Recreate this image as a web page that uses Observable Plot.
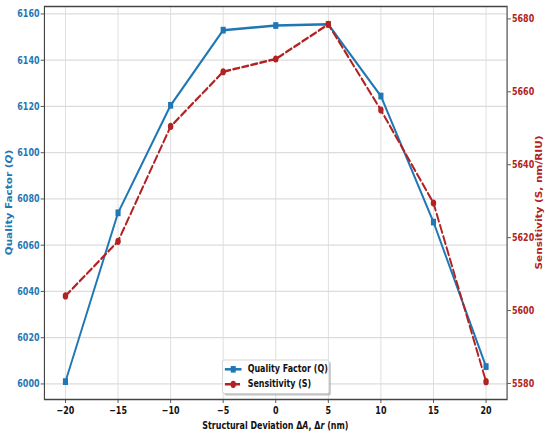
<!DOCTYPE html>
<html><head><meta charset="utf-8">
<script src="https://cdn.jsdelivr.net/npm/d3@7"></script>
<script src="https://cdn.jsdelivr.net/npm/@observablehq/plot@0.6"></script>
<style>html,body{margin:0;padding:0;background:#fff;} #chart{width:550px;height:440px;overflow:hidden;}</style>
</head><body><div id="chart"></div>
<script>
// ---- data ----
const deviation = [-20, -15, -10, -5, 0, 5, 10, 15, 20];
const qualityQ = [6001, 6074, 6120.5, 6153, 6155, 6155.5, 6124.5, 6070, 6007.5];
const sensitivityS = [5604, 5619, 5650.5, 5665.5, 5669, 5678.5, 5655, 5629.5, 5580.5];
const xTicks = [-20, -15, -10, -5, 0, 5, 10, 15, 20];
const qTicks = [6000, 6020, 6040, 6060, 6080, 6100, 6120, 6140, 6160];
const sTicks = [5580, 5600, 5620, 5640, 5660, 5680];
const legendLabels = ["Quality Factor (Q)", "Sensitivity (S)"];

const BLUE = "#1f77b4", RED = "#b22222";
const W = 724, H = 440, OUTW = 550;

const qExt = d3.extent(qualityQ), sExt = d3.extent(sensitivityS);
const qPad = (qExt[1] - qExt[0]) * 0.05, sPad = (sExt[1] - sExt[0]) * 0.05;
const qDom = [qExt[0] - qPad, qExt[1] + qPad];
const sDom = [sExt[0] - sPad, sExt[1] + sPad];
const s2q = s => qDom[0] + (s - sDom[0]) * (qDom[1] - qDom[0]) / (sDom[1] - sDom[0]);
const q2s = q => sDom[0] + (q - qDom[0]) * (sDom[1] - sDom[0]) / (qDom[1] - qDom[0]);

const rows = deviation.map((x, i) => ({x, q: qualityQ[i], s: sensitivityS[i], sq: s2q(sensitivityS[i])}));

const ML = 58, MR = 57, MT = 6, MB = 41;
const plot = Plot.plot({
  width: W, height: H, marginLeft: ML, marginRight: MR, marginTop: MT, marginBottom: MB,
  style: {fontFamily: "DejaVu Sans", fontSize: "10.5px", fontWeight: "bold", background: "white", overflow: "visible"},
  x: {domain: [-22, 22]},
  y: {domain: qDom},
  marks: [
    Plot.gridX(xTicks, {stroke: "#dcdcdc", strokeOpacity: 1, strokeWidth: 1.2}),
    Plot.gridY(qTicks, {stroke: "#dcdcdc", strokeOpacity: 1, strokeWidth: 1.2}),
    Plot.axisX(xTicks, {tickSize: 4, tickPadding: 3, label: null, stroke: "#444", fill: "#111",
      tickFormat: d => d < 0 ? "\u2212" + (-d) : String(d)}),
    Plot.axisY(qTicks, {anchor: "left", tickSize: 4.5, tickPadding: 2, label: null, stroke: "#444", fill: BLUE,
      tickFormat: d => String(d)}),
    Plot.axisY(sTicks.map(s2q), {anchor: "right", tickSize: 4.5, tickPadding: 2, label: null, stroke: "#444", fill: RED,
      tickFormat: v => String(Math.round(q2s(v)))}),
    Plot.line(rows, {x: "x", y: "q", stroke: BLUE, strokeWidth: 2.5}),
    Plot.dot(rows, {x: "x", y: "q", symbol: "square", fill: BLUE, r: 3.8}),
    Plot.line(rows, {x: "x", y: "sq", stroke: RED, strokeWidth: 2.5, strokeDasharray: "8,4"}),
    Plot.dot(rows, {x: "x", y: "sq", symbol: "circle", fill: RED, r: 3.6}),
    Plot.frame({stroke: "#444", strokeWidth: 1.5})
  ]
});

plot.setAttribute("viewBox", `0 0 ${W} ${H}`);
plot.setAttribute("preserveAspectRatio", "none");
plot.setAttribute("width", OUTW);
plot.setAttribute("height", H);
plot.style.width = OUTW + "px";
plot.style.height = H + "px";
plot.style.maxWidth = "none";
document.getElementById("chart").appendChild(plot);

const svg = d3.select(plot);
const cy = (MT + (H - MB)) / 2;
const cx = (ML + (W - MR)) / 2;

// left title
const lt = svg.append("text").attr("transform", `translate(13,${cy}) rotate(-90)`)
  .attr("text-anchor", "middle").attr("dominant-baseline", "middle")
  .attr("fill", BLUE).attr("font-size", "10.5px").attr("font-weight", "bold").attr("font-family", "DejaVu Sans");
lt.append("tspan").text("Quality Factor (");
lt.append("tspan").attr("font-style", "italic").text("Q");
lt.append("tspan").text(")");

// right title
svg.append("text").attr("transform", `translate(710,${cy}) rotate(-90)`)
  .attr("text-anchor", "middle").attr("dominant-baseline", "middle")
  .attr("fill", RED).attr("font-size", "10.5px").attr("font-weight", "bold").attr("font-family", "DejaVu Sans")
  .text("Sensitivity (S, nm/RIU)");

// x title
const xt = svg.append("text").attr("x", cx).attr("y", 426)
  .attr("text-anchor", "middle").attr("dominant-baseline", "middle")
  .attr("fill", "#111").attr("font-size", "10.5px").attr("font-weight", "bold").attr("font-family", "DejaVu Sans");
xt.append("tspan").text("Structural Deviation \u0394");
xt.append("tspan").attr("font-style", "italic").text("A");
xt.append("tspan").text(", \u0394");
xt.append("tspan").attr("font-style", "italic").text("r");
xt.append("tspan").text(" (nm)");

// legend
const lg = svg.append("g").attr("font-family", "DejaVu Sans").attr("font-weight", "bold").attr("font-size", "10.5px").attr("text-anchor", "start");
const bx = 293, by = 360, bw = 140, bh = 33.5;
lg.append("rect").attr("x", bx + 2.5).attr("y", by + 2).attr("width", bw).attr("height", bh).attr("rx", 2).attr("fill", "#9a9a9a").attr("opacity", 0.6);
lg.append("rect").attr("x", bx).attr("y", by).attr("width", bw).attr("height", bh).attr("rx", 2).attr("fill", "white").attr("stroke", "#cfcfcf");
const rowsY = [369.3, 384.3];
const colors = [BLUE, RED];
legendLabels.forEach((lab, i) => {
  const y = rowsY[i];
  const line = lg.append("line").attr("x1", 296).attr("x2", 318).attr("y1", y).attr("y2", y).attr("stroke", colors[i]).attr("stroke-width", 2.5);
  if (i === 1) line.attr("stroke-dasharray", "8,4");
  if (i === 0) lg.append("rect").attr("x", 307 - 3.3).attr("y", y - 3.3).attr("width", 6.6).attr("height", 6.6).attr("fill", colors[i]);
  else lg.append("circle").attr("cx", 307).attr("cy", y).attr("r", 3.6).attr("fill", colors[i]);
  lg.append("text").attr("x", 326).attr("y", y).attr("text-anchor", "start").attr("dominant-baseline", "middle").attr("fill", "#111").text(lab);
});
</script>
</body></html>
